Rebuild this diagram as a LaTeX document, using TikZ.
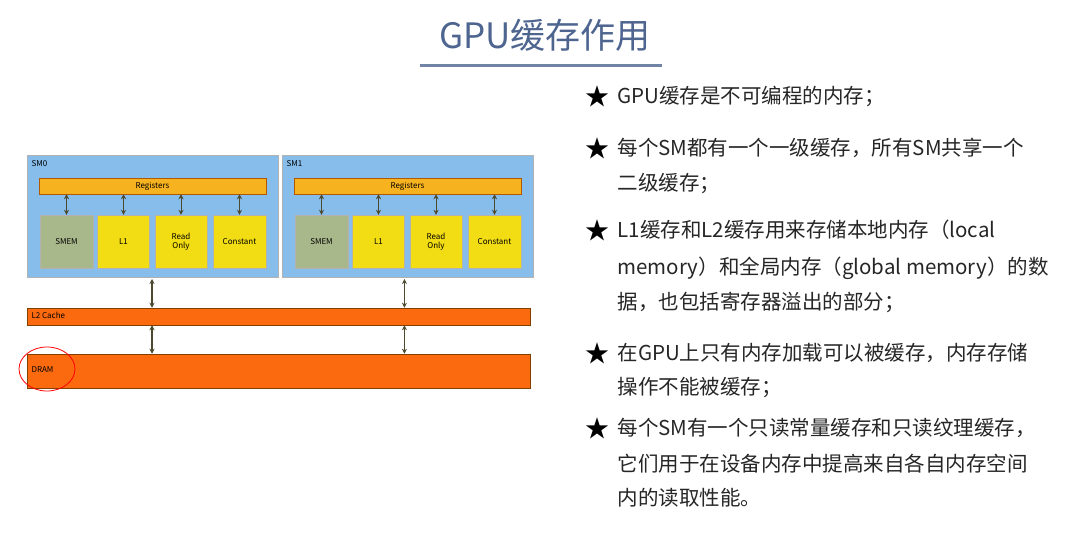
\documentclass[tikz,border=0pt]{standalone}
\usepackage{fontspec}
\setmainfont{Noto Sans CJK SC}
\usetikzlibrary{arrows.meta}
\definecolor{smblue}{HTML}{86BDEB}
\definecolor{titleblue}{HTML}{4E6590}
\definecolor{regor}{HTML}{F6B21F}
\definecolor{cellyel}{HTML}{F2DC14}
\definecolor{smemg}{HTML}{A9B88A}
\definecolor{baror}{HTML}{FB6A0E}
\begin{document}
\begin{tikzpicture}[x=1pt,y=-1pt,
  sm/.style={draw=gray!60,fill=smblue,line width=1pt},
  reg/.style={fill=regor,draw=orange!70!black,line width=0.5pt,font=\fontsize{8}{8}\selectfont},
  cell/.style={fill=cellyel,draw=gray!60,align=center,font=\fontsize{8}{9}\selectfont},
  smem/.style={fill=smemg,draw=gray!60,font=\fontsize{8}{8}\selectfont},
  bar/.style={fill=baror,draw=orange!50!black,line width=0.5pt},
  arr/.style={{Stealth[length=5pt,width=5pt]}-{Stealth[length=5pt,width=5pt]},draw=olive!40!black,line width=1.5pt},
  txt/.style={anchor=west,font=\fontsize{20.5}{22}\selectfont,text=black!85},
  star/.style={font=\fontsize{24}{24}\selectfont}]
\useasboundingbox[fill=white] (0,0) rectangle (1068,537);
\node[text=titleblue,font=\fontsize{35}{38}\selectfont] (title) at (545,35) {GPU缓存作用};
\fill[titleblue!80] (420,64) rectangle (662,67);
\foreach \n/\o in {0/0,1/255}{
  \draw[sm] (27+\o,156) rectangle (278+\o,278);
  \node[anchor=north west,font=\fontsize{8}{8}\selectfont] (sml\n) at (28+\o,157) {SM\n};
  \node[reg,minimum width=227,minimum height=16,inner sep=0] (reg\n) at (152.5+\o,186) {Registers};
  \node[smem,minimum width=53,minimum height=53,inner sep=0] (smem\n) at (66.5+\o,241.5) {SMEM};
  \node[cell,minimum width=52,minimum height=53,inner sep=0] (l1\n) at (123.5+\o,241.5) {L1};
  \node[cell,minimum width=52,minimum height=53,inner sep=0] (ro\n) at (181+\o,241.5) {Read\\Only};
  \node[cell,minimum width=53,minimum height=53,inner sep=0] (c\n) at (239.5+\o,241.5) {Constant};
  \foreach \b in {smem,l1,ro,c}{\draw[arr,line width=1pt] (reg\n.south -| \b\n.north) -- (\b\n.north);}
  \coordinate (smb\n) at (152+\o*0.99,279);
}
\node[bar,minimum width=503,minimum height=17,inner sep=0] (l2) at (278.5,316.5) {};
\node[anchor=west,font=\fontsize{8}{8}\selectfont] (l2t) at (28,315.5) {L2 Cache};
\node[bar,minimum width=503,minimum height=34,inner sep=0] (dram) at (278.5,371) {};
\node[anchor=west,font=\fontsize{8}{8}\selectfont] (dramt) at (28,370) {DRAM};
\draw[red,line width=0.8pt] (47,369) ellipse (28 and 22);
\foreach \n in {0,1}{
  \draw[arr] (smb\n) -- (smb\n |- l2.north);
  \draw[arr] (smb\n |- l2.south) -- (smb\n |- dram.north);
}
\foreach \y in {96,148,230,353,428}{\node[star] at (597,\y) {★};}
\node[txt] (t1) at (614,96) {GPU缓存是不可编程的内存；};
\node[txt] (t2) at (614,148) {每个SM都有一个一级缓存，所有SM共享一个};
\node[txt] (t2b) at (614,184) {二级缓存；};
\node[txt] (t3) at (614,230) {L1缓存和L2缓存用来存储本地内存（local};
\node[txt] (t3b) at (614,268) {memory）和全局内存（global memory）的数};
\node[txt] (t3c) at (614,302) {据，也包括寄存器溢出的部分；};
\node[txt] (t4) at (614,353) {在GPU上只有内存加载可以被缓存，内存存储};
\node[txt] (t4b) at (614,388) {操作不能被缓存；};
\node[txt] (t5) at (614,428) {每个SM有一个只读常量缓存和只读纹理缓存，};
\node[txt] (t5b) at (614,464) {它们用于在设备内存中提高来自各自内存空间};
\node[txt] (t5c) at (614,498) {内的读取性能。};
\end{tikzpicture}
\end{document}
